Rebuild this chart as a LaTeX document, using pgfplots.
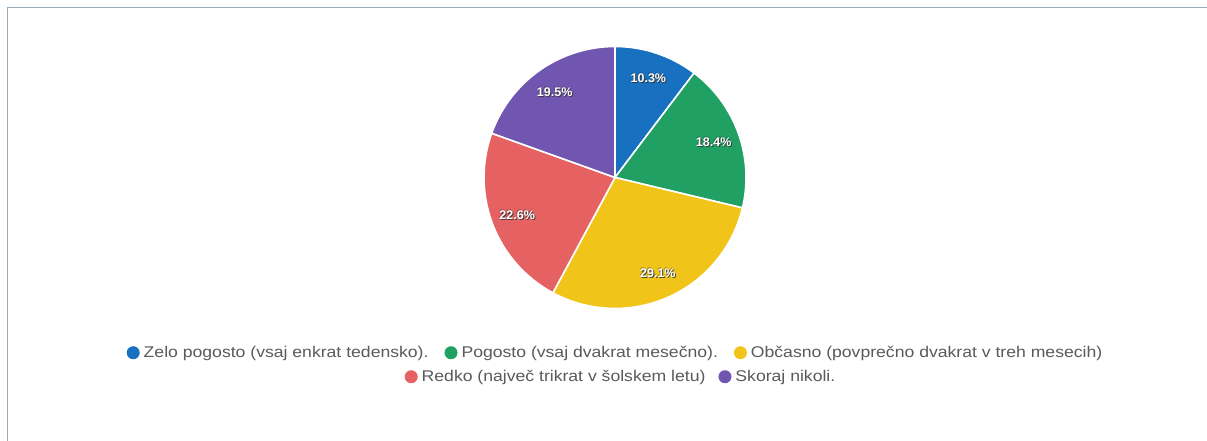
\documentclass[border=0pt]{standalone}
\usepackage{pgfplots}
\pgfplotsset{compat=1.18}
\usepackage{fontspec}
\setmainfont{Liberation Sans}
\newfontfamily\legfont[FakeStretch=1.136]{Liberation Sans}
\definecolor{c1}{RGB}{24,112,192}
\definecolor{c2}{RGB}{32,160,98}
\definecolor{c3}{RGB}{240,196,24}
\definecolor{c4}{RGB}{230,98,98}
\definecolor{c5}{RGB}{112,86,176}
\definecolor{txt}{RGB}{90,90,90}
\definecolor{frame}{RGB}{150,172,188}
\newcommand\mk[1]{\tikz[baseline={(0,-4.8pt)}]\fill[#1] (0,0) circle (6.5pt);\hspace{4pt}}
\newcommand\lbl[1]{\fontsize{12.5}{14}\selectfont\bfseries #1}
\begin{document}
\begin{tikzpicture}[x=1pt,y=1pt]
\path[use as bounding box, fill=white] (0,0) rectangle (1207,441);
\draw[frame, line width=1pt] (7,0) -- (7,433) -- (1207,433);
% values (percent), clockwise from 12 o'clock
\def\vA{10.3}\def\vB{18.4}\def\vC{29.1}\def\vD{22.6}\def\vE{19.5}
\pgfmathsetmacro\tot{\vA+\vB+\vC+\vD+\vE}
\pgfmathsetmacro\aO{90}
\pgfmathsetmacro\aA{90-360*\vA/\tot}
\pgfmathsetmacro\aB{\aA-360*\vB/\tot}
\pgfmathsetmacro\aC{\aB-360*\vC/\tot}
\pgfmathsetmacro\aD{\aC-360*\vD/\tot}
\pgfmathsetmacro\aE{\aD-360*\vE/\tot}
\def\cx{615}\def\cy{263.5}\def\R{131}
\begin{axis}[at={(0,0)}, anchor=south west, width=1207pt, height=441pt,
  scale only axis, xmin=0, xmax=1207, ymin=0, ymax=441, hide axis, clip=false]
\addplot[fill=c1, draw=white, line width=1.6pt, domain=\aA:\aO, samples=60, variable=\t]
  ({\cx+\R*cos(t)},{\cy+\R*sin(t)}) -- (axis cs:\cx,\cy) -- cycle;
\addplot[fill=c2, draw=white, line width=1.6pt, domain=\aB:\aA, samples=60, variable=\t]
  ({\cx+\R*cos(t)},{\cy+\R*sin(t)}) -- (axis cs:\cx,\cy) -- cycle;
\addplot[fill=c3, draw=white, line width=1.6pt, domain=\aC:\aB, samples=60, variable=\t]
  ({\cx+\R*cos(t)},{\cy+\R*sin(t)}) -- (axis cs:\cx,\cy) -- cycle;
\addplot[fill=c4, draw=white, line width=1.6pt, domain=\aD:\aC, samples=60, variable=\t]
  ({\cx+\R*cos(t)},{\cy+\R*sin(t)}) -- (axis cs:\cx,\cy) -- cycle;
\addplot[fill=c5, draw=white, line width=1.6pt, domain=\aE:\aD, samples=60, variable=\t]
  ({\cx+\R*cos(t)},{\cy+\R*sin(t)}) -- (axis cs:\cx,\cy) -- cycle;
\end{axis}
\foreach \p/\q/\v in {\aO/\aA/\vA, \aA/\aB/\vB, \aB/\aC/\vC, \aC/\aD/\vD, \aD/\aE/\vE}{
  \pgfmathsetmacro\m{(\p+\q)/2}
  \pgfmathsetmacro\lx{\cx+0.8*\R*cos(\m)}
  \pgfmathsetmacro\ly{\cy+0.8*\R*sin(\m)}
  \node[text=black!80, opacity=0.85] at (\lx+1,\ly-1) {\lbl{\v\%}};
  \node[text=black!80, opacity=0.4] at (\lx-0.6,\ly+0.6) {\lbl{\v\%}};
  \node[text=white] at (\lx,\ly) {\lbl{\v\%}};
}
\node[text=txt, inner sep=0pt] at (614.5,87.5) {\legfont\fontsize{15.5}{17}\selectfont
  \mk{c1}Zelo pogosto (vsaj enkrat tedensko).\hspace{16pt}\mk{c2}Pogosto (vsaj dvakrat mesečno).\hspace{16pt}\mk{c3}Občasno (povprečno dvakrat v treh mesecih)};
\node[text=txt, inner sep=0pt] at (620,63.5) {\legfont\fontsize{15.5}{17}\selectfont
  \mk{c4}Redko (največ trikrat v šolskem letu)\hspace{13pt}\mk{c5}Skoraj nikoli.};
\end{tikzpicture}
\end{document}
